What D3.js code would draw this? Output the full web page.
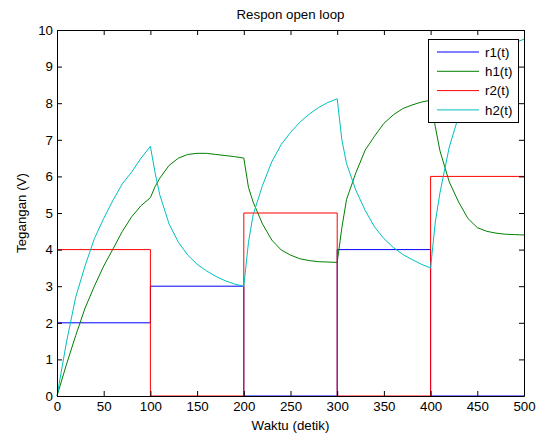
<!DOCTYPE html>
<html>
<head>
<meta charset="utf-8">
<script src="https://cdn.jsdelivr.net/npm/d3@7"></script>
<style>
  body { margin: 0; background: #fff; }
  svg { display: block; font-family: "Liberation Sans", Arial, sans-serif; }
</style>
</head>
<body>
<svg id="chart" width="539" height="434"></svg>
<script>
// step inputs: value holds from this time until the next one
const stepTimes = [0, 100, 200, 300, 400, 500];
const r1Values = [2, 3, 0, 4, 0, 0];
const r2Values = [4, 0, 5, 0, 6, 6];

// tank levels
const hTimes = [0, 10, 20, 30, 40, 50, 60, 70, 80, 90, 100,
  105, 110, 120, 130, 140, 150, 160, 170, 180, 190, 200,
  205, 210, 220, 230, 240, 250, 260, 270, 280, 290, 300,
  305, 310, 320, 330, 340, 350, 360, 370, 380, 390, 400,
  405, 410, 420, 430, 440, 450, 460, 470, 480, 490, 500];
const h1Values = [0, 0.85, 1.65, 2.4, 3.0, 3.55, 4.02, 4.5, 4.9, 5.2, 5.42,
  5.72, 5.95, 6.3, 6.5, 6.6, 6.63, 6.63, 6.6, 6.57, 6.54, 6.5,
  5.7, 5.3, 4.7, 4.26, 3.99, 3.85, 3.75, 3.7, 3.67, 3.66, 3.65,
  4.6, 5.37, 6.1, 6.72, 7.1, 7.45, 7.68, 7.85, 7.95, 8.03, 8.08,
  7.36, 6.7, 5.85, 5.3, 4.85, 4.6, 4.5, 4.45, 4.42, 4.41, 4.4];
const h2Values = [0, 1.45, 2.7, 3.55, 4.3, 4.85, 5.35, 5.8, 6.12, 6.5, 6.82,
  6.1, 5.5, 4.7, 4.2, 3.85, 3.6, 3.42, 3.27, 3.15, 3.06, 3.0,
  4.2, 4.95, 5.75, 6.4, 6.87, 7.2, 7.48, 7.7, 7.88, 8.02, 8.12,
  7.0, 6.35, 5.62, 5.07, 4.62, 4.3, 4.06, 3.87, 3.73, 3.6, 3.5,
  4.75, 5.55, 6.8, 7.65, 8.25, 8.7, 9.05, 9.3, 9.5, 9.65, 9.75];

const xTicks = d3.range(0, 501, 50);
const yTicks = d3.range(0, 11, 1);

const seriesNames = ["r1(t)", "h1(t)", "r2(t)", "h2(t)"];
const seriesColors = ["#0000ff", "#008000", "#ff0000", "#00bfbf"];

const margin = { left: 57, right: 15, top: 30, bottom: 38 };
const W = 539, H = 434;
const svg = d3.select("#chart");

const x = d3.scaleLinear().domain([0, 500]).range([margin.left, W - margin.right]);
const y = d3.scaleLinear().domain([0, 10]).range([H - margin.bottom, margin.top]);

// lines
const stepLine = d3.line().x(d => x(d[0])).y(d => y(d[1])).curve(d3.curveStepAfter);
const line = d3.line().x(d => x(d[0])).y(d => y(d[1]));

const series = [
  { path: stepLine(d3.zip(stepTimes, r1Values)) },
  { path: line(d3.zip(hTimes, h1Values)) },
  { path: stepLine(d3.zip(stepTimes, r2Values)) },
  { path: line(d3.zip(hTimes, h2Values)) }
];

svg.append("g").selectAll("path")
  .data(series)
  .join("path")
  .attr("d", d => d.path)
  .attr("fill", "none")
  .attr("stroke", (d, i) => seriesColors[i])
  .attr("stroke-width", 1);

// axes, ticks pointing inward on all four sides
const fontSize = 13.3;
function styleAxis(g) {
  g.select(".domain").attr("stroke", "#000");
  g.selectAll(".tick line").attr("stroke", "#000");
  g.selectAll("text").attr("font-size", fontSize).attr("fill", "#000")
    .attr("font-family", "Liberation Sans, Arial, sans-serif");
}

svg.append("g")
  .attr("transform", `translate(0,${y(0)})`)
  .call(d3.axisBottom(x).tickValues(xTicks).tickSize(-5).tickSizeOuter(0).tickPadding(6))
  .call(styleAxis);
svg.append("g")
  .attr("transform", `translate(0,${y(10)})`)
  .call(d3.axisTop(x).tickValues(xTicks).tickSize(-5).tickSizeOuter(0).tickFormat(""))
  .call(styleAxis);
svg.append("g")
  .attr("transform", `translate(${x(0)},0)`)
  .call(d3.axisLeft(y).tickValues(yTicks).tickSize(-5).tickSizeOuter(0).tickPadding(4))
  .call(styleAxis);
svg.append("g")
  .attr("transform", `translate(${x(500)},0)`)
  .call(d3.axisRight(y).tickValues(yTicks).tickSize(-5).tickSizeOuter(0).tickFormat(""))
  .call(styleAxis);

// titles
svg.append("text")
  .attr("x", (x(0) + x(500)) / 2).attr("y", 19)
  .attr("text-anchor", "middle").attr("font-size", fontSize)
  .text("Respon open loop");
svg.append("text")
  .attr("x", (x(0) + x(500)) / 2).attr("y", 430)
  .attr("text-anchor", "middle").attr("font-size", fontSize)
  .text("Waktu (detik)");
svg.append("text")
  .attr("transform", `translate(26,${(y(0) + y(10)) / 2}) rotate(-90)`)
  .attr("text-anchor", "middle").attr("font-size", fontSize)
  .text("Tegangan (V)");

// legend
const legend = svg.append("g").attr("transform", "translate(428,39)");
legend.append("rect")
  .attr("x", 0.5).attr("y", 0.5).attr("width", 90).attr("height", 83)
  .attr("fill", "#fff").attr("stroke", "#000").attr("stroke-width", 1);
const rows = legend.selectAll("g.row")
  .data(seriesNames)
  .join("g")
  .attr("class", "row")
  .attr("transform", (d, i) => `translate(0,${13 + i * 19.3})`);
rows.append("line")
  .attr("x1", 9).attr("x2", 51)
  .attr("stroke", (d, i) => seriesColors[i]).attr("stroke-width", 1);
rows.append("text")
  .attr("x", 57).attr("dy", "0.35em")
  .attr("font-size", fontSize)
  .text(d => d);
</script>
</body>
</html>
